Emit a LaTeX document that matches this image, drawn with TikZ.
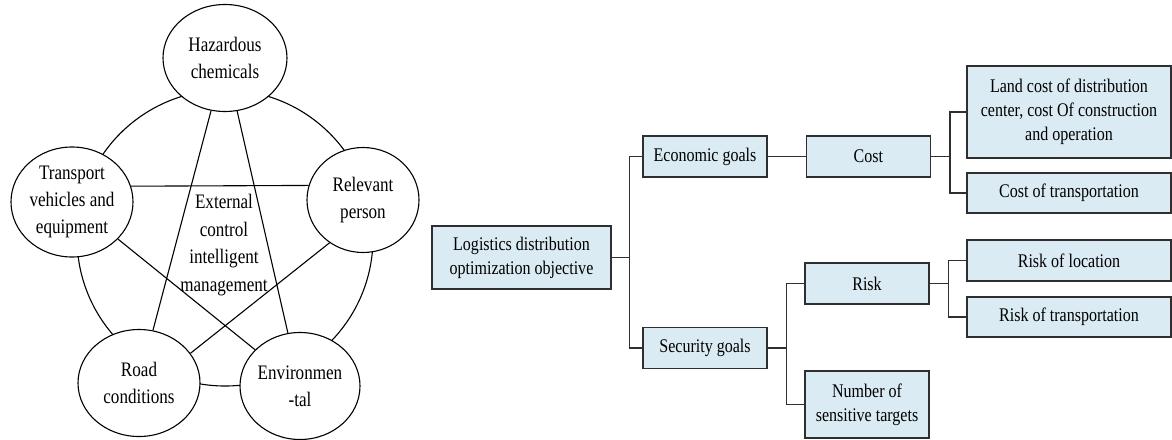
\documentclass[tikz,border=0pt]{standalone}
\usepackage{fontspec}
\setmainfont{Liberation Serif}[FakeStretch=0.83]
\usetikzlibrary{positioning, shapes.geometric, backgrounds}
\definecolor{paleblue}{HTML}{DBEBF3}
\definecolor{edgegrey}{HTML}{2F2F2F}
\tikzset{
  factor/.style={ellipse, draw, line width=1.1pt, fill=white, inner sep=0pt,
    minimum width=122pt, minimum height=107pt, align=center,
    font=\fontsize{20.6}{27}\selectfont},
  goalbox/.style={rectangle, draw=edgegrey, line width=1.3pt, fill=paleblue,
    minimum width=124pt, minimum height=41pt, inner sep=0pt, align=center,
    font=\fontsize{19.3}{24}\selectfont},
  leafbox/.style={goalbox, minimum width=204pt},
  link/.style={line width=1.1pt},
  branch/.style={line width=1.2pt, edgegrey},
}
\begin{document}
\begin{tikzpicture}[x=1pt, y=-1pt]
\useasboundingbox (0,0) rectangle (1172,439);

% five factors round the ring
\coordinate (hub) at (225,238);
\node[factor, minimum width=124pt] (haz) at (225,58) {Hazardous\\chemicals};
\node[factor, minimum height=110pt] (veh) at (72,202) {Transport\\vehicles and\\equipment};
\node[factor, minimum width=112pt, minimum height=105pt] (per) at (363,200) {Relevant\\person};
\node[factor] (road) at (139,383) {Road\\conditions};
\node[factor, minimum width=120pt] (env) at (300,386) {Environmen\\-tal};
\node[align=center, font=\fontsize{20.6}{27.5}\selectfont] (ext) at (224,245)
  {External\\control\\intelligent\\management};

\begin{scope}[on background layer]
\draw[link] (hub) circle[radius=148];
\draw[link] (haz) -- (road);
\draw[link] (haz) -- (env);
\draw[link] (veh.15) -- (per.165);
\draw[link] (veh) -- (env);
\draw[link] (per.232) -- (road.30);
\end{scope}

% objective tree
\node[goalbox, minimum width=179pt, minimum height=63pt] (root) at (521.5,257.5)
  {Logistics distribution\\optimization objective};
\node[goalbox] (eco) at (705,156.5) {Economic goals};
\node[goalbox] (sec) at (705,348) {Security goals};
\node[goalbox, right=38pt of eco] (cost) {Cost};
\node[goalbox] (risk) at (867,283.5) {Risk};
\node[goalbox, minimum height=67pt] (num) at (867,404.5) {Number of\\sensitive targets};
\node[leafbox, minimum height=92pt] (land) at (1069,112)
  {Land cost of distribution\\center, cost Of construction\\and operation};
\node[leafbox, minimum height=40pt] (ctra) at (1069,193) {Cost of transportation};
\node[leafbox] (rloc) at (1069,260.5) {Risk of location};
\node[leafbox, minimum height=40pt] (rtra) at (1069,317) {Risk of transportation};

\draw[branch] (root.east) -- ++(18,0) |- (eco.west);
\draw[branch] (root.east) -- ++(18,0) |- (sec.west);
\draw[branch] (eco) -- (cost);
\draw[branch] (cost.east) -- ++(19,0) |- (land.west);
\draw[branch] (cost.east) -- ++(19,0) |- (ctra.west);
\draw[branch] (sec.east) -- ++(19,0) |- (risk.west);
\draw[branch] (sec.east) -- ++(19,0) |- (num.west);
\draw[branch] (risk.east) -- ++(19,0) |- (rloc.west);
\draw[branch] (risk.east) -- ++(19,0) |- (rtra.west);
\end{tikzpicture}
\end{document}
